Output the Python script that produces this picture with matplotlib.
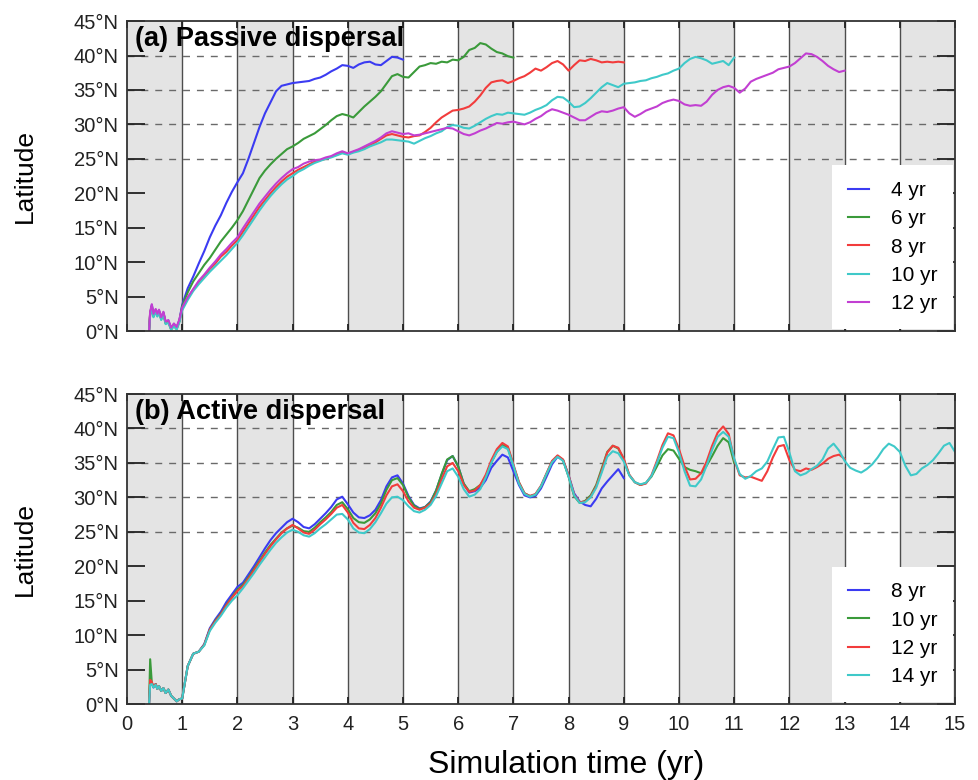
import numpy as np
import matplotlib
matplotlib.use("Agg")
import matplotlib.pyplot as plt

plt.rcParams['font.family'] = ['Liberation Sans', 'DejaVu Sans']

# sample times: irregular spin-up before year 1, then every 0.1 yr
t_early = [0.40, 0.42, 0.45, 0.48, 0.52, 0.55, 0.58, 0.62, 0.66, 0.70, 0.75, 0.80, 0.85, 0.90, 0.95]

# (a) passive dispersal, latitude (deg N)
pas_4 = [0.0, 2.6, 3.8, 2.3, 3.1, 2.4, 3.0, 1.9, 2.7, 1.3, 1.5, 0.4, 1.0, 0.5, 1.6,
         3.8, 6.2, 7.9, 9.8, 11.6, 13.6, 15.3, 16.8, 18.6, 20.2,
         21.6, 22.9, 25.0, 27.3, 29.6, 31.6, 33.2, 34.8, 35.6, 35.8,
         36.0, 36.1, 36.2, 36.3, 36.6, 36.8, 37.2, 37.7, 38.1, 38.6,
         38.5, 38.2, 38.7, 39.0, 39.1, 38.7, 38.6, 39.2, 39.8, 39.7,
         39.4]
pas_6 = [0.0, 2.4, 3.6, 2.1, 2.9, 2.2, 2.8, 1.7, 2.5, 1.1, 1.3, 0.2, 0.8, 0.3, 1.4,
         3.6, 5.6, 7.2, 8.4, 9.6, 10.6, 11.8, 13.0, 14.0, 15.0,
         16.1, 17.4, 19.0, 20.6, 22.2, 23.3, 24.2, 25.0, 25.7, 26.4,
         26.8, 27.3, 27.9, 28.3, 28.7, 29.3, 29.9, 30.6, 31.2, 31.5,
         31.3, 31.0, 31.8, 32.6, 33.3, 34.0, 34.8, 35.9, 37.0, 37.3,
         36.9, 36.8, 37.6, 38.4, 38.6, 38.9, 38.8, 39.1, 39.0, 39.4,
         39.3, 39.8, 40.8, 41.1, 41.8, 41.6, 41.0, 40.5, 40.3, 39.9,
         39.7]
pas_8 = [0.0, 2.7, 3.5, 2.4, 3.0, 2.3, 2.9, 1.8, 2.6, 1.2, 1.4, 0.3, 0.9, 0.4, 1.5,
         3.2, 4.8, 6.0, 7.1, 8.0, 9.0, 9.8, 10.8, 11.5, 12.4,
         13.2, 14.4, 15.6, 16.8, 18.0, 19.0, 20.0, 20.9, 21.7, 22.4,
         22.9, 23.4, 23.8, 24.2, 24.6, 24.8, 25.0, 25.3, 25.6, 25.9,
         25.7, 26.0, 26.3, 26.6, 27.0, 27.4, 27.9, 28.4, 28.6, 28.4,
         28.2, 28.1, 28.3, 28.4, 28.9, 29.5, 30.3, 31.0, 31.5, 32.0,
         32.1, 32.3, 32.6, 33.3, 34.2, 35.3, 36.1, 36.3, 36.4, 36.0,
         36.3, 36.7, 37.0, 37.5, 38.1, 37.8, 38.3, 38.9, 39.2, 38.7,
         37.8, 38.6, 39.3, 39.2, 39.5, 39.3, 39.0, 39.1, 39.0, 39.1,
         39.0]
pas_10 = [0.0, 2.3, 3.4, 2.0, 2.8, 2.1, 2.7, 1.6, 2.4, 1.0, 1.2, 0.2, 0.7, 0.2, 1.3,
          3.0, 4.5, 5.8, 6.8, 7.7, 8.6, 9.4, 10.2, 11.0, 11.9,
          12.8, 13.9, 15.1, 16.3, 17.5, 18.6, 19.6, 20.5, 21.3, 22.0,
          22.5, 23.1, 23.5, 24.0, 24.4, 24.7, 25.0, 25.2, 25.5, 25.8,
          25.6, 25.9, 26.1, 26.4, 26.8, 27.1, 27.4, 27.8, 27.8, 27.7,
          27.6, 27.5, 27.2, 27.6, 28.0, 28.3, 28.7, 29.0, 29.6, 29.9,
          29.8, 29.5, 29.4, 29.8, 30.3, 30.8, 31.2, 31.5, 31.4, 31.7,
          31.6, 31.5, 31.4, 31.7, 32.1, 32.4, 32.8, 33.5, 34.0, 33.9,
          33.3, 32.5, 32.6, 33.1, 33.8, 34.6, 35.4, 36.0, 35.7, 35.4,
          35.9, 36.0, 36.1, 36.3, 36.4, 36.7, 36.9, 37.2, 37.4, 37.8,
          38.1, 38.9, 39.5, 39.8, 39.6, 39.3, 38.8, 39.0, 39.2, 38.6,
          39.7]
pas_12 = [0.0, 2.8, 3.9, 2.5, 3.2, 2.5, 3.1, 2.0, 2.8, 1.4, 1.6, 0.5, 1.1, 0.6, 1.7,
          3.4, 4.9, 6.1, 7.3, 8.2, 9.2, 10.1, 11.1, 11.9, 12.8,
          13.6, 14.9, 16.1, 17.3, 18.5, 19.5, 20.5, 21.4, 22.2, 22.9,
          23.5, 23.8, 24.3, 24.6, 24.8, 24.9, 25.2, 25.4, 25.8, 26.1,
          25.8, 26.1, 26.4, 26.8, 27.2, 27.6, 28.1, 28.7, 29.0, 28.8,
          28.6, 28.7, 28.4, 28.5, 28.7, 28.9, 29.1, 29.3, 29.5, 29.4,
          29.0, 28.6, 28.4, 28.7, 29.1, 29.4, 29.8, 30.2, 30.1, 30.3,
          30.4, 30.2, 30.0, 30.3, 30.8, 31.2, 31.8, 32.2, 32.0, 31.7,
          31.4, 31.0, 30.6, 30.6, 31.1, 31.6, 31.9, 31.8, 32.0, 32.3,
          32.5, 31.6, 31.1, 31.5, 32.0, 32.3, 32.6, 33.1, 33.4, 33.6,
          33.4, 32.9, 32.7, 32.8, 32.7, 33.3, 34.3, 35.0, 35.4, 35.6,
          35.3, 34.6, 35.2, 36.2, 36.6, 36.9, 37.2, 37.5, 38.0, 38.2,
          38.4, 38.9, 39.6, 40.3, 40.2, 39.8, 39.2, 38.5, 38.0, 37.6,
          37.8]

# (b) active dispersal, latitude (deg N)
act_8 = [0.0, 3.3, 3.0, 2.4, 2.9, 2.2, 2.6, 1.9, 2.3, 1.6, 2.1, 1.2, 0.8, 0.4, 0.7,
         0.8, 5.5, 7.3, 7.6, 8.7, 11.0, 12.3, 13.4, 14.8, 15.9,
         17.0, 17.6, 18.8, 20.0, 21.3, 22.6, 23.8, 24.8, 25.6, 26.4,
         26.9, 26.4, 25.7, 25.5, 26.1, 26.9, 27.7, 28.6, 29.7, 30.1,
         29.0, 27.8, 27.1, 27.0, 27.4, 28.2, 29.6, 31.6, 32.9, 33.2,
         32.0, 30.2, 28.9, 28.4, 28.6, 29.4, 31.0, 33.3, 35.4, 36.0,
         34.5, 32.0, 30.7, 30.9, 31.4, 32.5, 34.3, 35.3, 36.2, 35.8,
         33.8, 31.8, 30.3, 30.0, 30.2, 31.3, 33.0, 34.8, 35.9, 35.4,
         33.2, 30.6, 29.4, 28.9, 28.7, 29.8, 31.3, 32.3, 33.2, 34.1,
         32.8]
act_10 = [0.0, 6.5, 3.1, 2.5, 2.9, 2.2, 2.6, 1.9, 2.3, 1.6, 2.1, 1.2, 0.8, 0.4, 0.7,
          0.8, 5.5, 7.3, 7.6, 8.6, 10.8, 12.1, 13.1, 14.4, 15.5,
          16.6, 17.3, 18.4, 19.6, 20.8, 22.0, 23.1, 24.0, 24.9, 25.5,
          25.9, 25.6, 25.1, 25.0, 25.6, 26.4, 27.1, 27.9, 28.9, 29.3,
          28.3, 27.0, 26.4, 26.3, 26.8, 27.7, 29.1, 31.1, 32.5, 32.8,
          31.8, 30.0, 28.8, 28.3, 28.6, 29.3, 31.0, 33.4, 35.5, 36.0,
          34.5, 32.0, 30.9, 31.2, 31.8, 33.0, 35.1, 36.6, 37.6, 37.2,
          34.6, 32.2, 30.6, 30.2, 30.4, 31.6, 33.4, 35.2, 36.0, 35.4,
          33.0, 30.2, 29.2, 29.5, 30.3, 31.8, 34.2, 36.6, 37.5, 37.1,
          35.5, 33.2, 32.2, 31.8, 32.1, 33.0, 34.5, 36.1, 37.0, 36.8,
          35.6, 34.4, 34.0, 33.8, 33.5, 34.6, 36.0, 37.5, 38.6, 38.0,
          35.0]
act_12 = [0.0, 3.5, 3.2, 2.5, 2.9, 2.2, 2.6, 1.9, 2.3, 1.6, 2.1, 1.2, 0.8, 0.4, 0.7,
          0.8, 5.5, 7.3, 7.6, 8.6, 10.8, 12.0, 13.0, 14.3, 15.4,
          16.4, 17.1, 18.2, 19.4, 20.6, 21.8, 22.9, 23.9, 24.8, 25.5,
          26.0, 25.5, 24.9, 24.7, 25.3, 26.1, 26.8, 27.6, 28.5, 28.9,
          27.8, 26.3, 25.5, 25.4, 26.0, 27.0, 28.5, 30.3, 31.6, 31.9,
          30.9, 29.4, 28.5, 28.2, 28.5, 29.1, 30.5, 32.6, 34.5, 35.0,
          33.8, 31.8, 30.8, 31.0, 31.8, 33.3, 35.4, 37.0, 37.9, 37.4,
          34.8, 32.2, 30.6, 30.2, 30.5, 31.7, 33.5, 35.3, 36.1, 35.5,
          33.2, 30.4, 29.3, 29.4, 30.1, 31.6, 33.9, 36.5, 37.5, 37.2,
          35.6, 33.3, 32.2, 31.8, 32.0, 33.2, 35.3, 37.6, 39.3, 39.0,
          37.0, 34.5, 32.6, 32.7, 33.5, 35.2, 37.5, 39.4, 40.3, 39.2,
          35.5, 33.2, 32.9, 33.0, 32.7, 32.4, 33.8, 35.8, 37.4, 37.6,
          35.4, 34.0, 33.8, 34.2, 34.0, 34.4, 34.9, 35.6, 36.0, 36.2,
          35.6]
act_14 = [0.0, 2.8, 2.9, 2.4, 2.8, 2.2, 2.6, 1.9, 2.3, 1.6, 2.1, 1.2, 0.8, 0.4, 0.7,
          0.8, 5.5, 7.3, 7.6, 8.5, 10.6, 11.8, 12.8, 14.0, 15.0,
          15.8, 16.8, 17.9, 19.0, 20.2, 21.3, 22.4, 23.4, 24.2, 24.9,
          25.3, 25.0, 24.5, 24.3, 24.8, 25.5, 26.1, 26.8, 27.5, 27.6,
          26.8, 25.5, 24.9, 24.8, 25.4, 26.4, 27.7, 29.1, 30.0, 30.1,
          29.6, 28.7, 28.0, 27.8, 28.2, 28.9, 30.2, 32.0, 33.8, 34.2,
          33.0, 31.2, 30.1, 30.4, 31.2, 32.9, 35.0, 36.6, 37.4, 37.0,
          34.6, 32.0, 30.5, 30.1, 30.4, 31.6, 33.4, 35.1, 35.9, 35.3,
          33.0, 30.3, 29.2, 29.3, 30.0, 31.4, 33.6, 35.9, 36.7, 36.4,
          35.2, 33.2, 32.2, 31.9, 32.1, 33.1, 35.0, 37.2, 38.8, 38.6,
          36.5, 33.8, 31.7, 31.6, 32.6, 34.6, 36.9, 38.8, 39.5, 38.8,
          35.6, 33.4, 32.7, 33.1, 33.8, 34.2, 35.2, 37.0, 38.7, 38.8,
          36.5, 33.8, 33.2, 33.5, 34.1, 34.6, 35.5, 37.1, 37.8, 36.8,
          35.3, 34.3, 33.9, 33.6, 34.1, 34.8, 35.8, 37.0, 37.8, 37.4,
          36.6, 34.6, 33.2, 33.4, 34.2, 34.7, 35.4, 36.4, 37.5, 37.9,
          36.6]

lat_ticks = [0, 5, 10, 15, 20, 25, 30, 35, 40, 45]
dashed_levels = [25, 30, 35, 40]

colors = {'blue': '#3b3bf2', 'green': '#3a9a3a', 'red': '#f23c3c',
          'cyan': '#3fc9c9', 'magenta': '#c23fd2'}

passive = [(pas_4, '4 yr', 'blue'), (pas_6, '6 yr', 'green'), (pas_8, '8 yr', 'red'),
           (pas_10, '10 yr', 'cyan'), (pas_12, '12 yr', 'magenta')]
active = [(act_8, '8 yr', 'blue'), (act_10, '10 yr', 'green'),
          (act_12, '12 yr', 'red'), (act_14, '14 yr', 'cyan')]


def times(n):
    # irregular early samples followed by 0.1 yr steps from year 1
    reg = 1.0 + 0.1 * np.arange(n - len(t_early))
    return np.concatenate([t_early, reg])


def style_panel(ax, title, show_xlabels):
    for yr in range(0, 15, 2):
        ax.axvspan(yr, yr + 1, color='#e4e4e4', lw=0, zorder=0)
    for yr in range(1, 15):
        ax.axvline(yr, color='#4d4d4d', lw=1.0, zorder=1)
    for lev in dashed_levels:
        ax.axhline(lev, color='#6a6a6a', lw=1.0, ls=(0, (5, 5)), zorder=1)
    ax.set_xlim(0, 15)
    ax.set_ylim(0, 45)
    ax.set_xticks(range(16))
    ax.set_yticks(lat_ticks)
    ax.set_yticklabels(['%d°N' % v for v in lat_ticks])
    ax.tick_params(axis='y', direction='in', length=13, width=1.3, right=True,
                   labelsize=14.5, pad=6, colors='#222222')
    ax.tick_params(axis='x', direction='in', length=5, width=1.3, top=True,
                   labelsize=14.5, pad=8, colors='#222222')
    if not show_xlabels:
        ax.set_xticklabels([])
    for sp in ax.spines.values():
        sp.set_linewidth(1.3)
        sp.set_color('#333333')
        sp.set_zorder(5)
    ax.text(0.010, 0.985, title, transform=ax.transAxes, fontsize=19.6,
            fontweight='bold', va='top', ha='left', zorder=6)


fig = plt.figure(figsize=(9.79, 7.8), dpi=100)
ax_a = fig.add_axes([0.1297, 0.5756, 0.8458, 0.3974])
ax_b = fig.add_axes([0.1297, 0.0974, 0.8458, 0.3974])

style_panel(ax_a, '(a) Passive dispersal', False)
style_panel(ax_b, '(b) Active dispersal', True)

for vals, lab, c in passive:
    ax_a.plot(times(len(vals)), vals, color=colors[c], lw=1.5, label=lab, zorder=3)
for vals, lab, c in active:
    ax_b.plot(times(len(vals)), vals, color=colors[c], lw=1.5, label=lab, zorder=3)

for ax in (ax_a, ax_b):
    leg = ax.legend(loc='lower right', fontsize=15, frameon=True, fancybox=False,
                    borderaxespad=0.1, handlelength=1.0, handletextpad=1.05,
                    labelspacing=0.45, borderpad=0.75)
    leg.get_frame().set_edgecolor('none')
    leg.get_frame().set_facecolor('white')
    leg.get_frame().set_alpha(1.0)
    leg.set_zorder(7)

fig.text(25 / 979, 1 - 176 / 780, 'Latitude', rotation=90, ha='center', va='center', fontsize=19)
fig.text(25 / 979, 1 - 549 / 780, 'Latitude', rotation=90, ha='center', va='center', fontsize=19)
fig.text(566 / 979, 1 - 765 / 780, 'Simulation time (yr)', ha='center', va='center', fontsize=23)

fig.savefig('out.png', dpi=100)
